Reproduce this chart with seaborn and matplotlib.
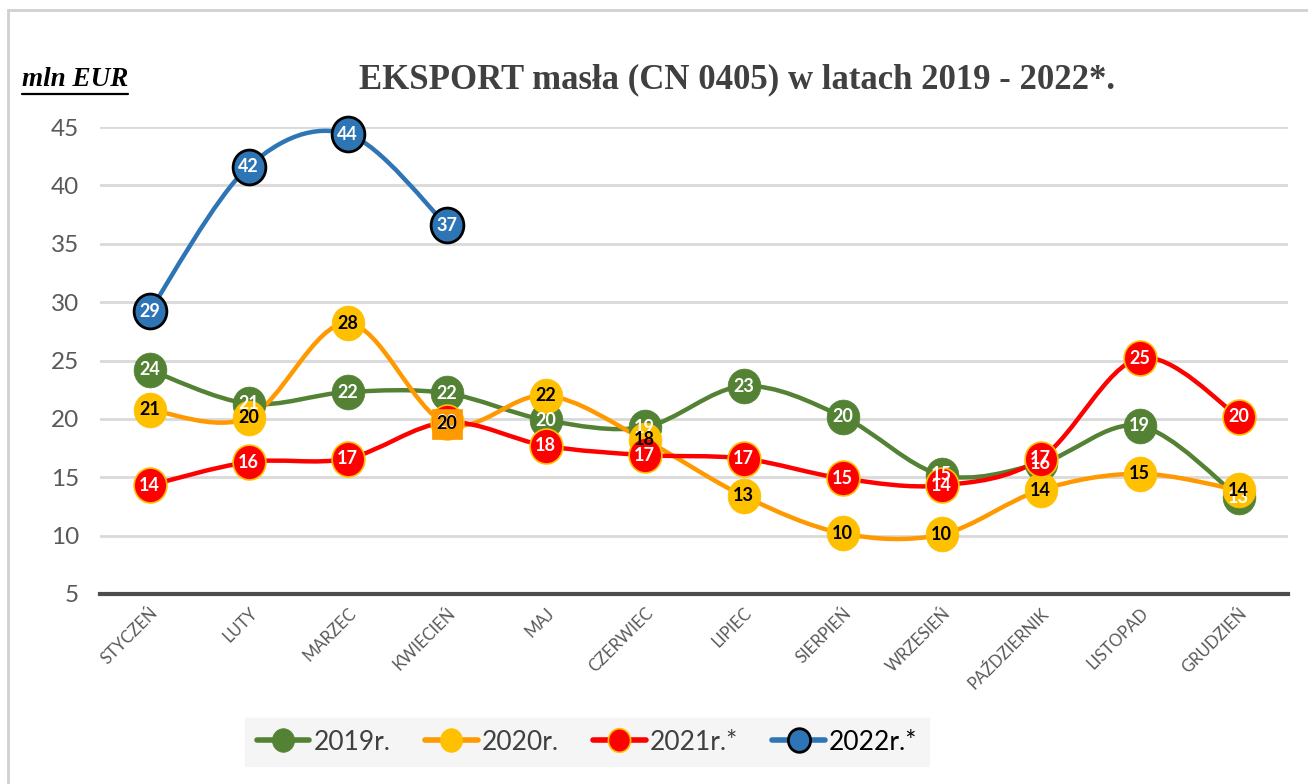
import numpy as np
import pandas as pd
import matplotlib
matplotlib.use("Agg")
import matplotlib.pyplot as plt
import seaborn as sns
from matplotlib.path import Path
from matplotlib.patches import PathPatch, Rectangle
from matplotlib.lines import Line2D
import matplotlib.transforms as mtransforms

# ---------------- data ----------------
months = ["STYCZEŃ", "LUTY", "MARZEC", "KWIECIEŃ", "MAJ", "CZERWIEC",
          "LIPIEC", "SIERPIEŃ", "WRZESIEŃ", "PAŹDZIERNIK", "LISTOPAD", "GRUDZIEŃ"]
v2019 = [24.2, 21.3, 22.3, 22.2, 19.9, 19.3, 22.8, 20.2, 15.2, 16.2, 19.4, 13.3]
v2020 = [20.8, 20.1, 28.2, 19.6, 22.0, 18.2, 13.4, 10.2, 10.1, 13.9, 15.3, 13.9]
v2021 = [14.3, 16.3, 16.6, 19.7, 17.7, 16.9, 16.6, 14.9, 14.3, 16.6, 25.2, 20.2]
v2022 = [29.2, 41.6, 44.4, 36.6]
series_names = ["2019r.", "2020r.", "2021r.*", "2022r.*"]
y_ticks = [5, 10, 15, 20, 25, 30, 35, 40, 45]
title = "EKSPORT masła (CN 0405) w latach 2019 - 2022*."
unit_label = "mln EUR"

# ---------------- style ----------------
sns.set_theme(style="white")
plt.rcParams['font.family'] = ['Lato', 'DejaVu Sans']

W, H = 1308, 784
fig = plt.figure(figsize=(W / 100, H / 100), dpi=100)
fig.patch.set_facecolor("white")
ax = fig.add_axes([100 / W, 1 - 594 / H, 1188 / W, 467 / H])

styles = {
    "2019r.": dict(line="#548235", fill="#548235", edge="#548235", ew=0.5, txt="white"),
    "2020r.": dict(line="#ff9900", fill="#ffc000", edge="#ffc000", ew=0.5, txt="black"),
    "2021r.*": dict(line="#ff0000", fill="#ff0000", edge="#ffc000", ew=1.2, txt="white"),
    "2022r.*": dict(line="#2e75b6", fill="#2e75b6", edge="#000000", ew=2.0, txt="white"),
}
values = {"2019r.": v2019, "2020r.": v2020, "2021r.*": v2021, "2022r.*": v2022}

ell = Path.unit_circle().transformed(mtransforms.Affine2D().scale(0.94, 1.0))


def smooth_path(xs, ys):
    pts = np.column_stack([xs, ys]).astype(float)
    n = len(pts)
    verts = [pts[0]]
    codes = [Path.MOVETO]
    for i in range(n - 1):
        p0 = pts[i - 1] if i > 0 else pts[i]
        p1 = pts[i]
        p2 = pts[i + 1]
        p3 = pts[i + 2] if i + 2 < n else pts[i + 1]
        c1 = p1 + (p2 - p0) / 6.0
        c2 = p2 - (p3 - p1) / 6.0
        verts += [c1, c2, p2]
        codes += [Path.CURVE4] * 3
    return Path(verts, codes)


square_idx_2020 = 3  # the April 2020 point is drawn as a square in the original

for k, name in enumerate(series_names):
    st = styles[name]
    vals = values[name]
    xs = np.arange(len(vals))
    df = pd.DataFrame({"x": xs, "y": vals})
    ax.add_patch(PathPatch(smooth_path(xs, vals), facecolor="none",
                           edgecolor=st["line"], lw=3.2, zorder=2 + 0.1 * k,
                           capstyle="round", joinstyle="round"))
    if name == "2020r.":
        dfm = df[df.x != square_idx_2020]
    else:
        dfm = df
    sns.scatterplot(data=dfm, x="x", y="y", ax=ax, marker=ell, s=630,
                    color=st["fill"], edgecolor=st["edge"], linewidth=st["ew"],
                    zorder=4 + k, clip_on=False, legend=False)
    if name == "2020r.":
        sns.scatterplot(data=df[df.x == square_idx_2020], x="x", y="y", ax=ax,
                        marker="s", s=480, color="#ff9900", edgecolor="#ff9900",
                        linewidth=0.5, zorder=8.5, clip_on=False, legend=False)

# data labels
for k, name in enumerate(series_names):
    st = styles[name]
    vals = values[name]
    z = 10 + k
    if name == "2020r.":
        z = 14
    for i, v in enumerate(vals):
        ax.text(i, v, f"{v:.0f}", ha="center", va="center", fontsize=13,
                fontweight="bold", color=st["txt"], zorder=z)

# axes formatting
ax.set_xlim(-0.5, len(months) - 0.5)
ax.set_ylim(5, 45)
ax.set_yticks(y_ticks)
ax.set_yticklabels([str(t) for t in y_ticks])
ax.set_xticks(np.arange(len(months)))
ax.set_xticklabels(months)
ax.set_xlabel("")
ax.set_ylabel("")
ax.grid(axis="y", color="#d9d9d9", lw=2)
ax.grid(axis="x", visible=False)
ax.set_axisbelow(True)
for s in ["top", "right", "left"]:
    ax.spines[s].set_visible(False)
ax.spines["bottom"].set_color("#4d4d4d")
ax.spines["bottom"].set_linewidth(3)
ax.spines["bottom"].set_zorder(1)
ax.tick_params(axis="y", length=0, pad=15, labelsize=17.5, labelcolor="#595959")
ax.tick_params(axis="x", length=0, pad=12, labelsize=12, labelcolor="#595959")
offset = mtransforms.ScaledTranslation(0.06, 0, fig.dpi_scale_trans)
for lab in ax.get_xticklabels():
    lab.set_rotation(45)
    lab.set_ha("right")
    lab.set_va("center")
    lab.set_rotation_mode("anchor")
    lab.set_transform(lab.get_transform() + offset)

# title and unit
fig.text(737 / W, 1 - 80 / H, title, ha="center", va="center",
         fontsize=25, fontweight="bold", color="#404040",
         family=["Liberation Serif", "DejaVu Serif"])
fig.text(22 / W, 1 - 80 / H, unit_label, ha="left", va="center",
         fontsize=19.5, fontweight="bold", fontstyle="italic", color="black",
         family=["Liberation Serif", "DejaVu Serif"])
fig.add_artist(Line2D([22 / W, 128 / W], [1 - 94 / H, 1 - 94 / H],
                      color="black", lw=1.6, transform=fig.transFigure))

# outer border (left and top visible)
fig.add_artist(Rectangle((8 / W, -0.2), 1.5, 1.2 - 10 / H, fill=False,
                         edgecolor="#d0d0d0", lw=2, transform=fig.transFigure))

# legend
handles = []
for name in series_names:
    st = styles[name]
    handles.append(Line2D([], [], color=st["line"], lw=4, marker=ell,
                          markersize=17, markerfacecolor=st["fill"],
                          markeredgecolor=st["edge"], markeredgewidth=st["ew"]))
leg = fig.legend(handles, series_names, loc="center",
                 bbox_to_anchor=(587 / W, 1 - 742 / H), ncol=4, frameon=True,
                 fontsize=19, handlelength=2.0, handletextpad=0.15,
                 columnspacing=1.3, borderpad=0.45, fancybox=False)
leg.get_frame().set_facecolor("#f5f5f5")
leg.get_frame().set_edgecolor("#f5f5f5")
leg.get_frame().set_alpha(1)
for t in leg.get_texts():
    t.set_color("#404040")
leg.get_texts()[-1].set_color("black")

fig.savefig("out.png", dpi=100)
